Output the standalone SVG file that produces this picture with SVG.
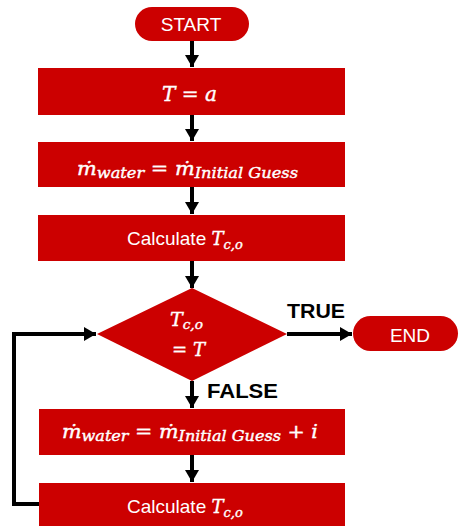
<svg xmlns="http://www.w3.org/2000/svg" width="460" height="526" viewBox="0 0 460 526">
<style>
.box{fill:#CC0000;}
.lbl{font-family:"Liberation Sans",Arial,sans-serif;fill:#fff;font-size:19px;}
.mid{text-anchor:middle;}
.math{font-family:"DejaVu Serif","Liberation Serif",serif;font-style:italic;fill:#fff;stroke:#fff;stroke-width:0.4;}
.tag{font-family:"Liberation Sans",Arial,sans-serif;font-weight:bold;font-size:21px;fill:#000;}
.conn{stroke:#000;stroke-width:4;fill:none;}
</style>
<defs>
<marker id="ah" markerUnits="userSpaceOnUse" markerWidth="16" markerHeight="16" viewBox="0 0 16 16" refX="14" refY="8" orient="auto">
<path d="M2,1 L14,8 L2,15 Z" fill="#000"/>
</marker>
</defs>
<g id="connectors">
<line class="conn" x1="192" y1="41" x2="192" y2="67" marker-end="url(#ah)"/>
<line class="conn" x1="192" y1="115" x2="192" y2="141" marker-end="url(#ah)"/>
<line class="conn" x1="192" y1="187" x2="192" y2="214" marker-end="url(#ah)"/>
<line class="conn" x1="192" y1="261" x2="192" y2="288" marker-end="url(#ah)"/>
<line class="conn" x1="192" y1="381" x2="192" y2="408" marker-end="url(#ah)"/>
<line class="conn" x1="192" y1="455" x2="192" y2="482" marker-end="url(#ah)"/>
<line class="conn" x1="287" y1="334" x2="352" y2="334" marker-end="url(#ah)"/>
<polyline class="conn" points="39,504 14,504 14,334 96,334" marker-end="url(#ah)"/>
<text class="tag" x="287" y="318" textLength="58" lengthAdjust="spacingAndGlyphs">TRUE</text>
<text class="tag" x="207" y="398" textLength="71" lengthAdjust="spacingAndGlyphs">FALSE</text>
</g>
<g id="start">
<rect class="box" x="135" y="7" width="114" height="34" rx="17"/>
<text class="lbl mid" x="191" y="31" font-size="20">START</text>
</g>
<g id="set-t">
<rect class="box" x="38" y="68" width="307" height="47"/>
<text class="math" x="162" y="101" font-size="20" textLength="55" lengthAdjust="spacingAndGlyphs">T = a</text>
</g>
<g id="init-guess">
<rect class="box" x="38" y="142" width="307" height="45"/>
<text class="math" x="77" y="175" font-size="18" textLength="221" lengthAdjust="spacingAndGlyphs">ṁ<tspan font-size="14" dy="3">water</tspan><tspan dy="-3"> = ṁ</tspan><tspan font-size="14" dy="3">Initial Guess</tspan></text>
</g>
<g id="calc1">
<rect class="box" x="38" y="215" width="307" height="46"/>
<text class="lbl" x="127" y="245">Calculate <tspan class="math" font-size="18">T</tspan><tspan class="math" font-size="13" dy="4">c,o</tspan></text>
</g>
<g id="decision">
<polygon class="box" points="192,288 287,334 192,381 97,334"/>
<text class="math" x="170" y="326" font-size="18" textLength="33" lengthAdjust="spacingAndGlyphs">T<tspan font-size="13" dy="3">c,o</tspan></text>
<text class="math" x="172" y="356" font-size="18" textLength="33" lengthAdjust="spacingAndGlyphs">= T</text>
</g>
<g id="end">
<rect class="box" x="353" y="316" width="105" height="35" rx="17.5"/>
<text class="lbl mid" x="410" y="342" font-size="21">END</text>
</g>
<g id="increment">
<rect class="box" x="39" y="409" width="306" height="46"/>
<text class="math" x="62" y="438" font-size="18" textLength="256" lengthAdjust="spacingAndGlyphs">ṁ<tspan font-size="14" dy="3">water</tspan><tspan dy="-3"> = ṁ</tspan><tspan font-size="14" dy="3">Initial Guess</tspan><tspan dy="-3"> + i</tspan></text>
</g>
<g id="calc2">
<rect class="box" x="39" y="483" width="306" height="50"/>
<text class="lbl" x="127" y="513">Calculate <tspan class="math" font-size="18">T</tspan><tspan class="math" font-size="13" dy="4">c,o</tspan></text>
</g>
</svg>
